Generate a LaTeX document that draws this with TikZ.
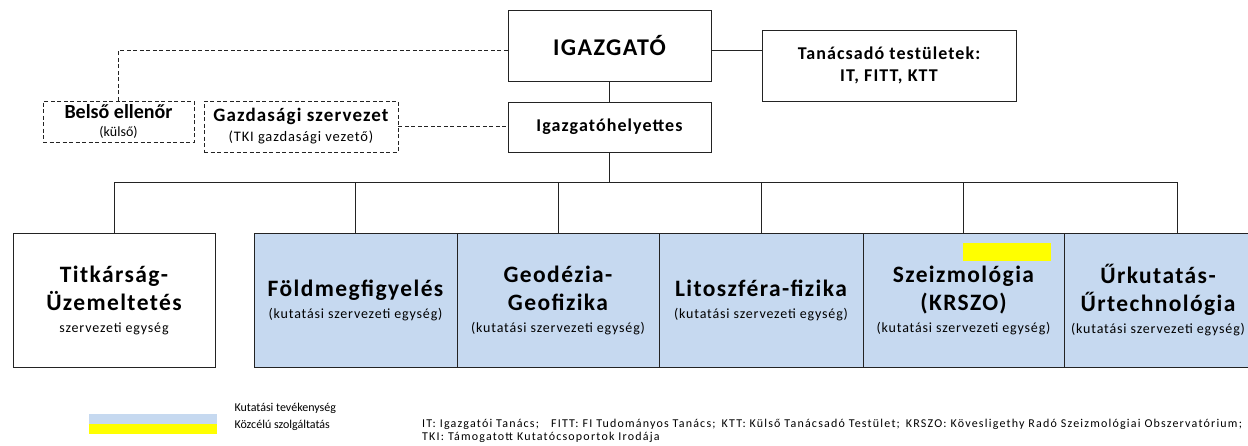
\documentclass[tikz,border=0pt]{standalone}
\usepackage{fontspec}
\setmainfont{Carlito}
\newfontfamily\ritkit[LetterSpace=6]{Carlito}
\newfontfamily\aprobetu[LetterSpace=10]{Carlito}
\usetikzlibrary{positioning}

\definecolor{kutat}{RGB}{198,217,240}
\definecolor{kozcel}{RGB}{255,255,0}
\definecolor{vonal}{RGB}{35,35,35}

\tikzset{
  doboz/.style={draw=vonal, line width=0.9pt, align=center, inner sep=1pt},
  szaggatott/.style={doboz, dash pattern=on 4pt off 2.5pt},
  egyseg/.style={doboz, minimum width=202pt, minimum height=134pt,
    font=\ritkit\fontsize{23.5}{28}\selectfont\bfseries},
  kapcs/.style={draw=vonal, line width=0.9pt},
}
\newcommand{\alcim}[1]{\\[-6pt]{\fontsize{14}{17}\selectfont\mdseries #1}}

\begin{document}
\begin{tikzpicture}[x=1pt, y=-1pt]
    \useasboundingbox (0,0) rectangle (1248,445);
    \clip (0,0) rectangle (1248,445);

    % Vezetes
    \node[doboz, minimum width=203pt, minimum height=71pt,
      font=\ritkit\fontsize{24}{26}\selectfont\bfseries] (igazgato) at (609.5,45.5) {IGAZGATÓ};
    \node[doboz, minimum width=254pt, minimum height=71pt,
      font=\ritkit\fontsize{18}{22}\selectfont\bfseries] (tanacs) at (889,65.5) {Tanácsadó testületek:\\IT, FITT, KTT};
    \node[doboz, minimum width=203pt, minimum height=50pt,
      font=\ritkit\fontsize{18}{20}\selectfont\bfseries] (helyettes) at (609.5,127) {Igazgatóhelyettes};

    \node[szaggatott, minimum width=151pt, minimum height=41pt,
      font=\fontsize{20}{19}\selectfont\bfseries] (belso) at (118.5,121.5) {Belső ellenőr\\[-1pt]{\fontsize{14}{14}\selectfont\mdseries (külső)}};
    \node[szaggatott, minimum width=194pt, minimum height=51pt,
      font=\ritkit\fontsize{19}{20}\selectfont\bfseries] (gazd) at (301,126.5) {Gazdasági szervezet\\{\fontsize{14.5}{15}\selectfont\mdseries (TKI gazdasági vezető)}};

    % Szervezeti egysegek
    \node[egyseg] (titkar) at (114,300) {Titkárság-\\Üzemeltetés\alcim{szervezeti egység}};
    \node[egyseg, fill=kutat, minimum width=203pt] (fold) at (355.5,300) {Földmegfigyelés\alcim{(kutatási szervezeti egység)}};
    \node[egyseg, fill=kutat] (geod) at (558,300) {Geodézia-\\Geofizika\alcim{(kutatási szervezeti egység)}};
    \node[egyseg, fill=kutat, minimum width=204pt] (lito) at (761,300) {Litoszféra-fizika\alcim{(kutatási szervezeti egység)}};
    \node[egyseg, fill=kutat, minimum width=201pt] (szeiz) at (963.5,300) {Szeizmológia\\(KRSZO)\alcim{(kutatási szervezeti egység)}};
    \node[egyseg, fill=kutat, minimum width=188pt] (urk) at (1158,300) {Űrkutatás-\\Űrtechnológia\alcim{(kutatási szervezeti egység)}};
    \node[fill=kozcel, minimum width=88pt, minimum height=18pt, inner sep=0pt] (kiemel) at (1007,252) {};

    % Vonalak
    \coordinate (sin) at (609.5,182);
    \draw[kapcs] ([yshift=-5pt]igazgato.east) -- ([yshift=-5pt]igazgato.east -| tanacs.west);
    \draw[kapcs] (igazgato) -- (helyettes);
    \draw[kapcs, dash pattern=on 4pt off 2.5pt] (belso.north) |- ([yshift=-5pt]igazgato.west);
    \draw[kapcs, dash pattern=on 4pt off 2.5pt] (gazd.east) -- (gazd.east -| helyettes.west);
    \draw[kapcs] (helyettes.south) -- (sin);
    \draw[kapcs] (titkar.north |- sin) -- ([xshift=19pt]urk.north |- sin);
    \foreach \e in {titkar,fold,geod,lito,szeiz}
      \draw[kapcs] (\e.north) -- (\e.north |- sin);
    \draw[kapcs] ([xshift=19pt]urk.north) -- ([xshift=19pt]urk.north |- sin);

    % Jelmagyarazat
    \node[fill=kutat, minimum width=128pt, minimum height=10pt, inner sep=0pt] (jel1) at (153,419) {};
    \node[fill=kozcel, minimum width=128pt, minimum height=10pt, inner sep=0pt] (jel2) at (153,429) {};
    \node[anchor=west, font=\fontsize{12}{14}\selectfont] (jel1szoveg) at (231,408) {Kutatási tevékenység};
    \node[anchor=west, font=\fontsize{12}{14}\selectfont] (jel2szoveg) at (231,425) {Közcélú szolgáltatás};
    \node[anchor=west, font=\aprobetu\fontsize{12}{13}\selectfont, inner sep=0pt] (rov1) at (422,424) {IT: Igazgatói Tanács;\quad FITT: FI Tudományos Tanács;\enspace KTT: Külső Tanácsadó Testület;\enspace KRSZO: Kövesligethy Radó Szeizmológiai Obszervatórium;};
    \node[anchor=west, font=\aprobetu\fontsize{12}{13}\selectfont, inner sep=0pt] (rov2) at (422,437) {TKI: Támogatott Kutatócsoportok Irodája};
\end{tikzpicture}
\end{document}
